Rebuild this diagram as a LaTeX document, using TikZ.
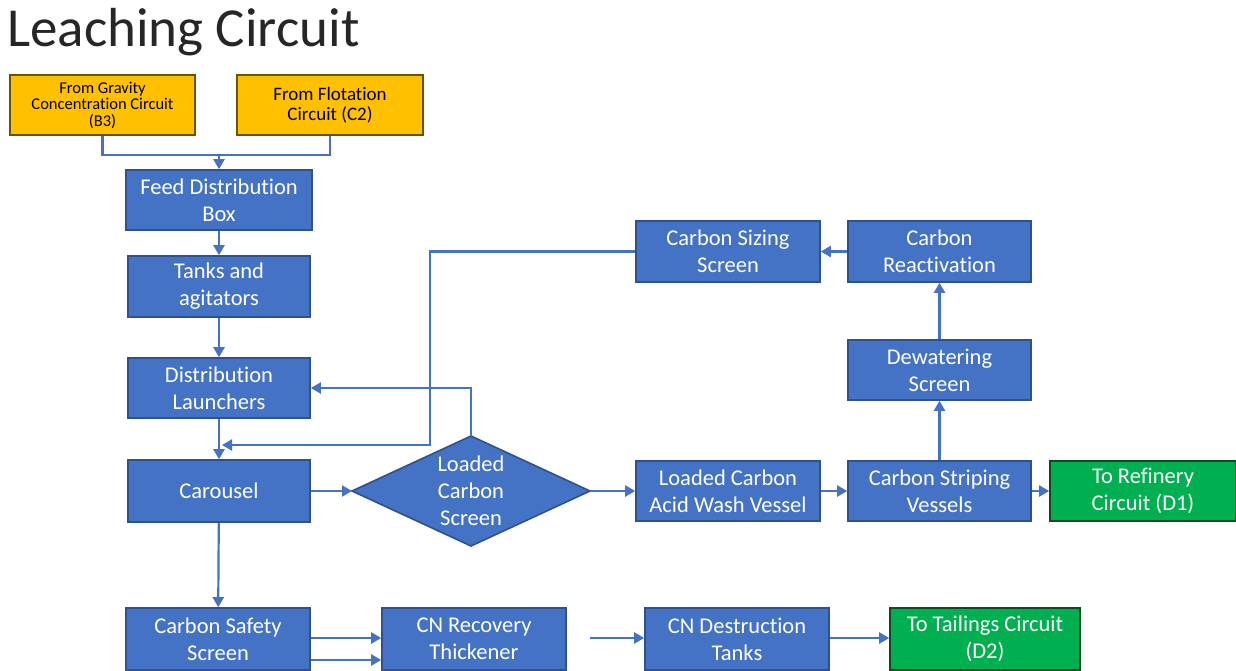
\documentclass[tikz,border=0pt]{standalone}
\usepackage{fontspec}
\setmainfont{Carlito}[Ligatures=NoCommon]
\usetikzlibrary{arrows.meta}
\definecolor{boxblue}{HTML}{4472C4}
\definecolor{boxedge}{HTML}{2F528F}
\definecolor{feedgold}{HTML}{FFC000}
\definecolor{feededge}{HTML}{6B5300}
\definecolor{outgreen}{HTML}{00B050}
\definecolor{outedge}{HTML}{0B4A22}
\definecolor{flowline}{HTML}{4472C4}
\tikzset{
  unit/.style={rectangle, fill=boxblue, draw=boxedge, line width=1.6pt,
    text=white, align=center, inner sep=2pt,
    font=\fontsize{22.5}{27}\selectfont},
  feedbox/.style={unit, fill=feedgold, draw=feededge, text=black},
  outbox/.style={unit, fill=outgreen, draw=outedge},
  flow/.style={draw=flowline, line width=2.2pt,
    -{Triangle[length=10pt,width=11pt]}},
  link/.style={draw=flowline, line width=2.2pt},
}
\begin{document}
\begin{tikzpicture}[x=1pt,y=-1pt]
\useasboundingbox (0,0) rectangle (1236,670);
\fill[white] (0,0) rectangle (1236,670);

% title
\node[anchor=west, inner sep=0, font=\fontsize{55}{62}\selectfont, text=black!85] (title) at (7,32) {Leaching Circuit};

% incoming feeds
\node[feedbox, minimum width=185, minimum height=60, font=\fontsize{16.5}{16.5}\selectfont] (grav) at (102.5,105)
  {From Gravity\\Concentration Circuit\\(B3)};
\node[feedbox, minimum width=186, minimum height=60, font=\fontsize{19}{20}\selectfont] (flot) at (330,105)
  {From Flotation\\Circuit (C2)};

% main leaching line
\node[unit, minimum width=186, minimum height=60] (feed) at (219,200) {Feed Distribution\\Box};
\node[unit, minimum width=182, minimum height=61] (tanks) at (219,286.5) {Tanks and\\agitators};
\node[unit, minimum width=182, minimum height=60] (launch) at (219,388) {Distribution\\Launchers};
\node[unit, minimum width=182, minimum height=62] (car) at (219,491) {Carousel};

% loaded carbon screen (decision)
\coordinate (lcsW) at (352,491);
\coordinate (lcsE) at (590,491);
\coordinate (lcsN) at (471,436);
\coordinate (lcsS) at (471,546);
\path[fill=boxblue, draw=boxedge, line width=1.6pt] (lcsW) -- (lcsN) -- (lcsE) -- (lcsS) -- cycle;
\node[text=white, align=center, font=\fontsize{22.5}{27}\selectfont] (lcs) at (471,491) {Loaded\\Carbon\\Screen};

% carbon handling
\node[unit, minimum width=184, minimum height=60] (acid) at (728,491) {Loaded Carbon\\Acid Wash Vessel};
\node[unit, minimum width=183, minimum height=60] (strip) at (939.5,491) {Carbon Striping\\Vessels};
\node[outbox, minimum width=186, minimum height=60] (ref) at (1143,491) {To Refinery\\Circuit (D1)};
\node[unit, minimum width=183, minimum height=60] (dew) at (939.5,370) {Dewatering\\Screen};
\node[unit, minimum width=183, minimum height=61] (react) at (939.5,251.5) {Carbon\\Reactivation};
\node[unit, minimum width=184, minimum height=61] (size) at (728,251.5) {Carbon Sizing\\Screen};

% tailings line
\node[unit, minimum width=184, minimum height=62] (safe) at (218,639) {Carbon Safety\\Screen};
\node[unit, minimum width=184, minimum height=62] (cnr) at (474,639) {CN Recovery\\Thickener};
\node[unit, minimum width=184, minimum height=62] (cnd) at (737,639) {CN Destruction\\Tanks};
\node[outbox, minimum width=190, minimum height=62] (tail) at (985,639) {To Tailings Circuit\\(D2)};

% feed junction
\coordinate (join) at (219,155);
\draw[link] (grav.south) |- (join);
\draw[link] (flot.south) |- (join);
\draw[flow] (join) -- (feed.north);

\draw[flow] (feed) -- (tanks);
\draw[flow] (tanks) -- (launch);
\draw[flow] (launch) -- (car);

% carbon return to the carousel
\coordinate (retbend) at (430,445);
\coordinate (ret) at (222,445);
\draw[flow] (size.west) -| (retbend) -- (ret);

% screen overflow back to the launchers
\draw[flow] (lcsN) |- (launch.east);

\draw[flow] (car.east) -- (lcsW);
\draw[flow] (lcsE) -- (acid.west);
\draw[flow] (acid) -- (strip);
\draw[flow] (strip) -- (ref);
\draw[flow] (strip) -- (dew);
\draw[flow] (dew) -- (react);
\draw[flow] (react) -- (size);

\draw[flow] (car) -- (safe);
\draw[flow] ([yshift=1pt]safe.east) -- ([yshift=1pt]cnr.west);
\draw[flow] ([yshift=-21pt]safe.east) -- ([yshift=-21pt]cnr.west);
\coordinate (cnin) at (590,638);
\draw[flow] (cnin) -- ([yshift=1pt]cnd.west);
\draw[flow] ([yshift=1pt]cnd.east) -- ([yshift=1pt]tail.west);
\end{tikzpicture}
\end{document}
